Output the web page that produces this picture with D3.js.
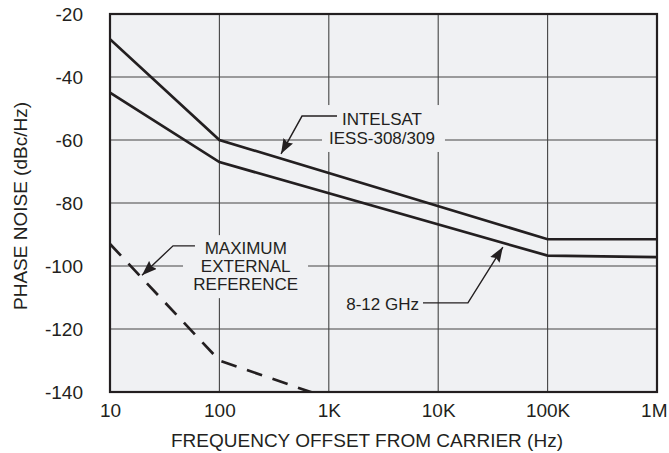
<!DOCTYPE html>
<html>
<head>
<meta charset="utf-8">
<script src="https://cdn.jsdelivr.net/npm/d3@7"></script>
<style>
  body { margin: 0; background: #fff; }
  text { font-family: "Liberation Sans", Arial, sans-serif; fill: #231f20; }
</style>
</head>
<body>
<div id="container"></div>
<script>
const width = 669,
  height = 453,
  margin = {top: 14, bottom: 61, left: 110, right: 12};

// data
const freqTicks = [10, 100, 1e3, 1e4, 1e5, 1e6];
const freqLabels = ["10", "100", "1K", "10K", "100K", "1M"];
const dbTicks = [-20, -40, -60, -80, -100, -120, -140];

const intelsatFreq = [10, 100, 1e5, 1e6];
const intelsatDb = [-28, -60, -91.5, -91.5];

const ghzFreq = [10, 100, 1e5, 1e6];
const ghzDb = [-45, -67, -96.7, -97.2];

const refFreq = [10, 100, 1000];
const refDb = [-93, -130, -142];

const ink = "#231f20";

const svg = d3.select("#container")
  .append("svg")
  .attr("width", width)
  .attr("height", height)

const xScale = d3.scaleLog()
  .domain([10, 1e6])
  .range([margin.left, width - margin.right])

const yScale = d3.scaleLinear()
  .domain([-140, -20])
  .range([height - margin.bottom, margin.top])

const x0 = margin.left, x1 = width - margin.right,
  y0 = margin.top, y1 = height - margin.bottom;

const defs = svg.append("defs")
defs.append("clipPath")
  .attr("id", "plot")
  .append("rect")
  .attr("x", x0).attr("y", y0)
  .attr("width", x1 - x0).attr("height", y1 - y0)

defs.append("marker")
  .attr("id", "arrow")
  .attr("viewBox", "0 0 15 11")
  .attr("refX", 15).attr("refY", 5.5)
  .attr("markerWidth", 15).attr("markerHeight", 11)
  .attr("markerUnits", "userSpaceOnUse")
  .attr("orient", "auto")
  .append("path")
  .attr("d", "M0,0 L15,5.5 L0,11 L2,5.5 Z")
  .attr("fill", ink)

// plot background
svg.append("rect")
  .attr("x", x0).attr("y", y0)
  .attr("width", x1 - x0).attr("height", y1 - y0)
  .attr("fill", "#f0f1f3")

// grid
const grid = svg.append("g").attr("stroke", "#444").attr("stroke-width", 1.1)
grid.selectAll("line.v")
  .data(freqTicks)
  .join("line")
  .attr("class", "v")
  .attr("x1", d => xScale(d)).attr("x2", d => xScale(d))
  .attr("y1", y0).attr("y2", y1)
grid.selectAll("line.h")
  .data(dbTicks)
  .join("line")
  .attr("class", "h")
  .attr("x1", x0).attr("x2", x1)
  .attr("y1", d => yScale(d)).attr("y2", d => yScale(d))

// label backgrounds that mask the grid
const boxes = [
  {f0: 46.5, f1: 646, d0: -90.2, d1: -110.2},   // MAXIMUM EXTERNAL REFERENCE
  {f0: 867, f1: 11530, d0: -48.9, d1: -63.8}    // INTELSAT
];
svg.selectAll("rect.mask")
  .data(boxes)
  .join("rect")
  .attr("class", "mask")
  .attr("x", d => xScale(d.f0))
  .attr("y", d => yScale(d.d0))
  .attr("width", d => xScale(d.f1) - xScale(d.f0))
  .attr("height", d => yScale(d.d1) - yScale(d.d0))
  .attr("fill", "#f0f1f3")

const line = d3.line()
  .x(d => xScale(d[0]))
  .y(d => yScale(d[1]))

const curves = svg.append("g").attr("clip-path", "url(#plot)")

curves.append("path")
  .datum(d3.zip(intelsatFreq, intelsatDb))
  .attr("d", line)
  .attr("fill", "none")
  .attr("stroke", ink)
  .attr("stroke-width", 2.7)

curves.append("path")
  .datum(d3.zip(ghzFreq, ghzDb))
  .attr("d", line)
  .attr("fill", "none")
  .attr("stroke", ink)
  .attr("stroke-width", 2.7)

curves.append("path")
  .datum(d3.zip(refFreq, refDb))
  .attr("d", line)
  .attr("fill", "none")
  .attr("stroke", ink)
  .attr("stroke-width", 2.7)
  .attr("stroke-dasharray", "16,11")

// frame
svg.append("rect")
  .attr("x", x0).attr("y", y0)
  .attr("width", x1 - x0).attr("height", y1 - y0)
  .attr("fill", "none")
  .attr("stroke", ink)
  .attr("stroke-width", 2.2)

// axes
const xAxis = d3.axisBottom(xScale)
  .tickValues(freqTicks)
  .tickFormat((d, i) => freqLabels[i])
  .tickSize(0)
  .tickPadding(12)

const yAxis = d3.axisLeft(yScale)
  .tickValues(dbTicks)
  .tickFormat(d => d)
  .tickSize(0)
  .tickPadding(27)

svg.append("g")
  .attr("transform", `translate(0,${y1})`)
  .call(xAxis)
  .call(g => g.select(".domain").remove())
  .selectAll("text")
  .attr("font-size", 19)
  .attr("font-family", null)
  .filter((d, i, n) => i === n.length - 1)   // last label sits inside the page edge
  .attr("text-anchor", "end")
  .attr("dx", 10)

svg.append("g")
  .attr("transform", `translate(${x0},0)`)
  .call(yAxis)
  .call(g => g.select(".domain").remove())
  .selectAll("text")
  .attr("font-size", 19)
  .attr("font-family", null)

svg.append("text")
  .attr("x", 367)
  .attr("y", 447)
  .attr("text-anchor", "middle")
  .attr("font-size", 19)
  .text("FREQUENCY OFFSET FROM CARRIER (Hz)")

svg.append("text")
  .attr("transform", `translate(27,206) rotate(-90)`)
  .attr("text-anchor", "middle")
  .attr("font-size", 19)
  .text("PHASE NOISE (dBc/Hz)")

// annotations
const leader = d3.line().x(d => xScale(d[0])).y(d => yScale(d[1]))

const notes = [
  {pts: [[1189, -52.4], [569, -52.4], [366, -64.4]]},
  {pts: [[7260, -111.7], [18700, -111.7], [39000, -94.0]]},
  {pts: [[59.8, -93.6], [37.7, -93.6], [19.6, -102.9]]}
];
svg.selectAll("path.note")
  .data(notes)
  .join("path")
  .attr("class", "note")
  .attr("d", d => leader(d.pts))
  .attr("fill", "none")
  .attr("stroke", ink)
  .attr("stroke-width", 1.4)
  .attr("marker-end", "url(#arrow)")

const labels = [
  {f: 3063, db: -55.24, lines: ["INTELSAT", "IESS-308/309"], anchor: "middle", lead: 19},
  {f: 6670, db: -113.97, lines: ["8-12 GHz"], anchor: "end", lead: 0},
  {f: 174, db: -96.3, lines: ["MAXIMUM", "EXTERNAL", "REFERENCE"], anchor: "middle", lead: 18}
];
labels.forEach(l => {
  const t = svg.append("text")
    .attr("x", xScale(l.f))
    .attr("y", yScale(l.db))
    .attr("text-anchor", l.anchor)
    .attr("font-size", 17)
  t.selectAll("tspan")
    .data(l.lines)
    .join("tspan")
    .attr("x", xScale(l.f))
    .attr("dy", (d, i) => i === 0 ? 0 : l.lead)
    .text(d => d)
});
</script>
</body>
</html>
